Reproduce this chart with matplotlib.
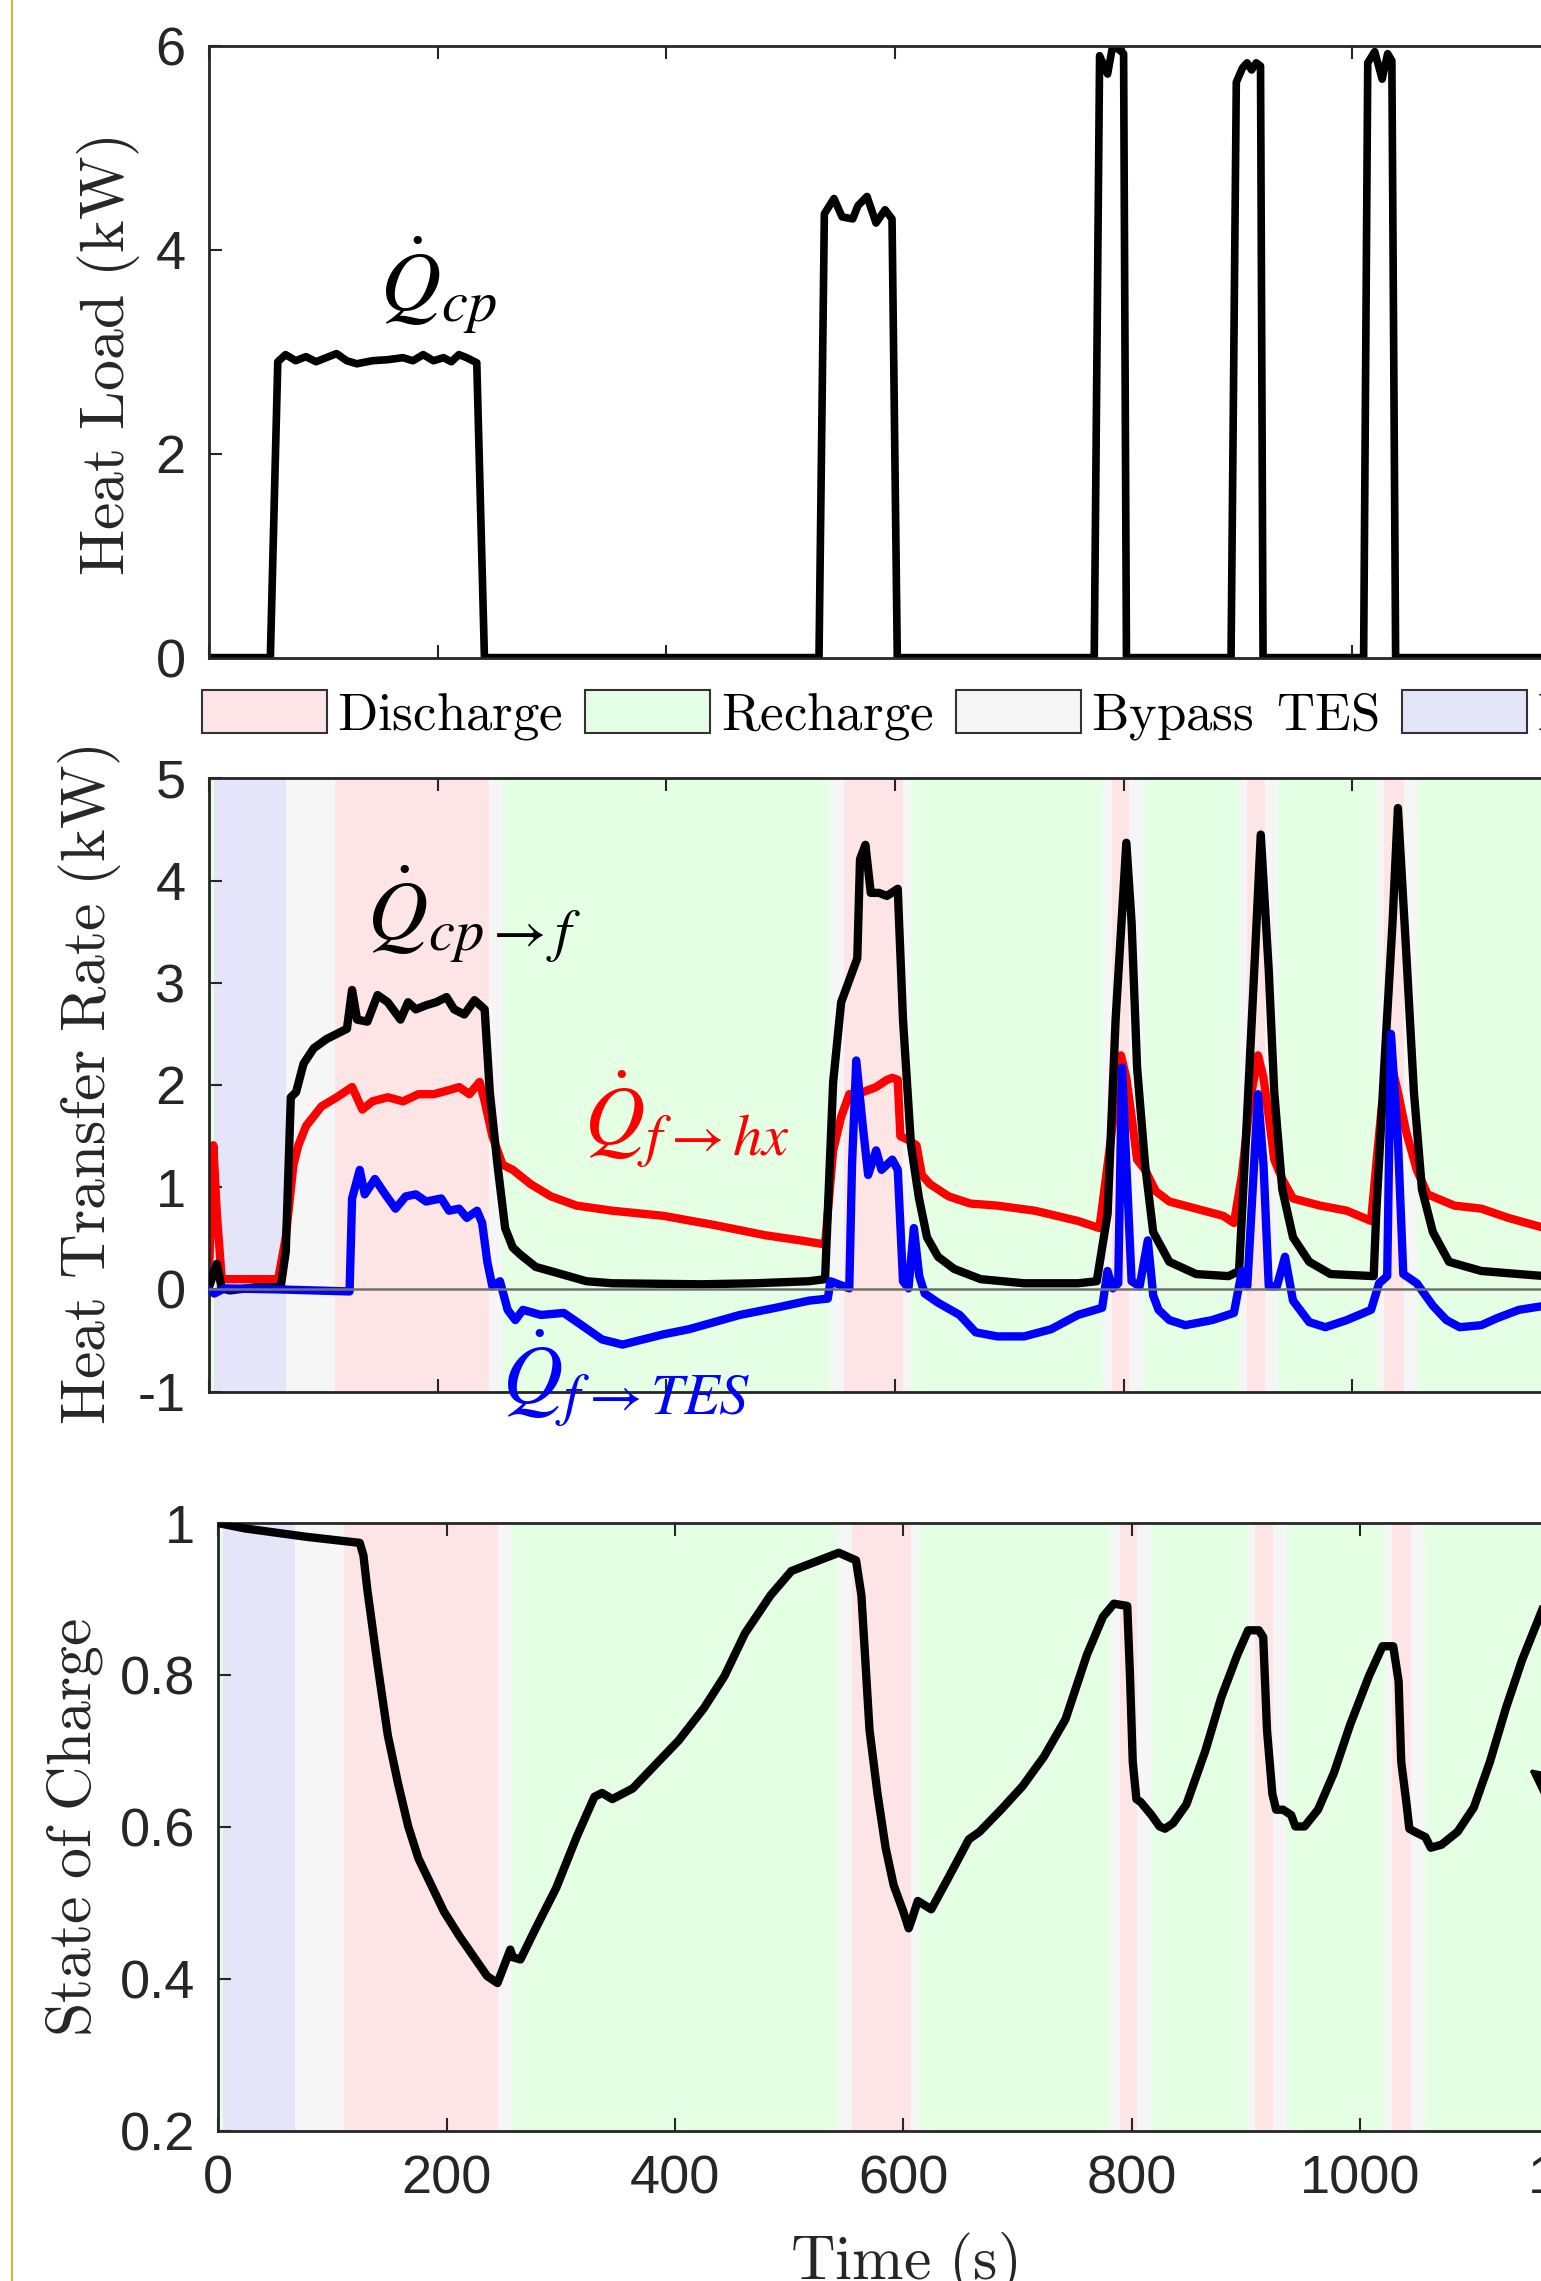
import numpy as np
import matplotlib.pyplot as plt
from matplotlib.patches import Patch
from matplotlib.lines import Line2D
from matplotlib.font_manager import FontProperties

plt.rcParams['mathtext.fontset'] = 'cm'
plt.rcParams['font.family'] = ['Liberation Sans', 'DejaVu Sans']
plt.rcParams['axes.unicode_minus'] = False

# ---- operating phases (s) ----
phase_t0 = [0, 4, 67, 110, 245, 256, 543, 555, 607, 614, 782, 790, 805, 817,
            902, 908, 924, 935, 1022, 1028, 1045, 1057]
phase_t1 = phase_t0[1:] + [1200]
phase_kind = ['R', 'I', 'B', 'D', 'B', 'R', 'B', 'D', 'B', 'R', 'B', 'D', 'B', 'R',
              'B', 'D', 'B', 'R', 'B', 'D', 'B', 'R']
phase_names = {'D': 'Discharge', 'R': 'Recharge', 'B': 'Bypass\\ \\,TES', 'I': 'Idle'}
phase_colors = {'D': '#FDE5E6', 'R': '#E5FFE5', 'B': '#F6F6F6', 'I': '#E5E5FA'}

# ---- heat load (kW) ----
t_load = [0, 53.5, 60, 66.8, 75.7, 84.6, 93.5, 102.4, 111.4, 120.3, 129.2, 142.6, 156,
          169.4, 178.3, 187.2, 196.2, 205, 211.8, 218.5, 225.2, 234.1, 240.8,
          533.5, 538.2, 546.6, 553.7, 563, 567.6, 575.5, 583.4, 591.3, 597.4, 602,
          774.3, 779, 786, 790, 795, 800, 802.5,
          894, 898.6, 904, 908, 912, 916, 919.8, 922,
          1010, 1013.6, 1019.7, 1026.2, 1031, 1034.7, 1038, 1200]
q_load = [0, 0, 2.90, 2.97, 2.91, 2.95, 2.90, 2.94, 2.98, 2.91, 2.88, 2.91, 2.92,
          2.94, 2.91, 2.97, 2.91, 2.94, 2.90, 2.97, 2.94, 2.89, 0,
          0, 4.35, 4.50, 4.32, 4.30, 4.43, 4.52, 4.26, 4.39, 4.30, 0,
          0, 5.90, 5.72, 5.97, 5.97, 5.92, 0,
          0, 5.64, 5.78, 5.83, 5.76, 5.83, 5.80, 0,
          0, 5.83, 5.94, 5.67, 5.92, 5.85, 0, 0]

# ---- heat transfer rates (kW) ----
t_cpf = [0, 6.7, 11, 18, 40, 62.5, 67, 71.4, 76, 82.6, 91.5, 102.7, 120.5, 125, 129.4,
         138.4, 147.3, 156.2, 167.4, 174, 180.8, 189.7, 198.6, 207.6, 214.3, 223.2,
         232.1, 241, 245.5, 252.2, 258.9, 265.6, 272.3, 285.7, 308, 330, 352.6, 430.6,
         477.6, 524.7, 538.8, 545.9, 552.9, 567, 569.4, 574.1, 578.8, 585.9, 592.9,
         602.4, 607, 614, 621, 628, 637.6, 651.8, 675, 713, 760, 776.5, 786, 793,
         802.4, 807, 811.8, 818.8, 825.9, 840, 863.5, 891.8, 901, 908, 915.3, 920,
         927, 931.8, 938.8, 948.2, 962.4, 981, 1018.8, 1021, 1028, 1035.3, 1040,
         1047, 1054, 1061, 1070.6, 1084.7, 1113, 1146, 1168.5, 1200]
q_cpf = [0.03, 0.25, 0.01, -0.01, 0.02, 0.02, 0.37, 1.88, 1.93, 2.21, 2.36, 2.45, 2.55,
         2.93, 2.64, 2.62, 2.88, 2.81, 2.64, 2.81, 2.74, 2.78, 2.81, 2.86, 2.74, 2.69,
         2.83, 2.74, 1.93, 1.22, 0.60, 0.41, 0.34, 0.22, 0.15, 0.08, 0.06, 0.05,
         0.06, 0.08, 0.10, 2.03, 2.81, 3.24, 4.21, 4.35, 3.88, 3.88, 3.85,
         3.92, 2.64, 1.41, 0.89, 0.51, 0.32, 0.20, 0.10, 0.06, 0.06, 0.08, 0.74, 2.64,
         4.37, 3.59, 2.17, 1.22, 0.56, 0.27, 0.15, 0.13, 0.18, 1.69, 3.35, 4.45,
         3.12, 1.93, 0.98, 0.51, 0.27, 0.15, 0.13, 0.74, 2.17, 3.59, 4.71,
         3.35, 1.93, 0.98, 0.56, 0.27, 0.18, 0.15, 0.13, 0.12]

t_fhx = [0, 3.6, 6.7, 11, 18, 60.3, 67, 73.7, 78, 84.8, 98.2, 111.6, 125, 134, 142.8,
         156.2, 169.6, 183, 196.4, 209.8, 218.7, 227.6, 236.6, 241, 247.7, 256.7,
         265.6, 281.2, 299, 321.4, 352.6, 397.3, 441.9, 486.5, 516.9, 538.8,
         545.9, 552.9, 560, 571.8, 583.5, 592.9, 597.6, 602.4, 604.7, 611.8, 618.8,
         623.5, 630.6, 647, 665.9, 689.4, 722.4, 760, 778.8, 786, 793, 797.6, 802.4,
         807, 811.8, 818.8, 828.2, 840, 863.5, 887, 896.5, 903.5, 910.6, 917.6, 922.4,
         927, 931.8, 938.8, 948.2, 971.8, 995.3, 1016.5, 1021, 1025.9, 1033, 1040,
         1047, 1056.5, 1065.9, 1089.4, 1113, 1136.5, 1168.5, 1200]
q_fhx = [0.22, 1.41, 0.74, 0.10, 0.10, 0.10, 0.51, 1.22, 1.41, 1.60, 1.79, 1.88, 1.98,
         1.76, 1.84, 1.88, 1.84, 1.91, 1.91, 1.95, 1.98, 1.91, 2.03, 1.84, 1.50, 1.22,
         1.17, 1.03, 0.91, 0.82, 0.77, 0.72, 0.63, 0.53, 0.48, 0.44,
         1.36, 1.69, 1.91, 1.93, 1.98, 2.05, 2.07, 2.05, 1.50, 1.46, 1.41,
         1.12, 1.03, 0.91, 0.84, 0.82, 0.77, 0.67, 0.60, 1.22, 1.84, 2.29, 2.07,
         1.69, 1.27, 1.17, 0.96, 0.86, 0.79, 0.72, 0.65, 1.12, 1.84, 2.29, 2.07,
         1.69, 1.27, 1.08, 0.89, 0.82, 0.77, 0.67, 1.22, 1.79, 2.26, 1.93,
         1.55, 1.17, 0.93, 0.82, 0.79, 0.70, 0.60, 0.55]

t_ftes = [0, 4.5, 13.4, 60, 122.8, 125, 131.7, 136.1, 145, 154, 163, 171.9, 180.8,
          189.7, 203, 209.8, 218.7, 225.4, 234.3, 238.8, 243.3, 247.7, 254.4, 261.1,
          267.8, 274.5, 290.1, 310.2, 325.8, 343.7, 361.6, 379.4, 397.3, 419.6, 441.9,
          464.2, 495.5, 524.7, 541.2, 543.5, 560, 562.4, 566.1, 571.8, 576.5, 583.5,
          588.2, 597.6, 602.4, 607, 611.8, 616.5, 621.2, 626, 637.6, 656.5, 670.6,
          689.4, 712.9, 736.5, 760, 781.2, 785.9, 790.6, 795.3, 798.6, 802.4, 807,
          814, 821.2, 825.9, 830.6, 840, 854, 877.6, 896.5, 903.5, 908.2, 917.6,
          922.4, 927, 934.1, 941.2, 948.2, 962.4, 976.5, 995.3, 1016.5, 1023.5,
          1030.6, 1033.9, 1040, 1044.7, 1056.5, 1070.6, 1082.4, 1094.1, 1113, 1127,
          1145.9, 1168.5, 1200]
q_ftes = [-0.01, -0.04, 0.01, 0.0, -0.02, 0.89, 1.17, 0.93, 1.08, 0.93, 0.79, 0.91,
          0.93, 0.86, 0.89, 0.77, 0.79, 0.70, 0.77, 0.65, 0.27, 0.03, 0.08, -0.20,
          -0.30, -0.20, -0.25, -0.23, -0.35, -0.49, -0.54, -0.49, -0.44, -0.39, -0.32,
          -0.25, -0.18, -0.11, -0.09, 0.08, 0.01, 1.22, 2.24, 1.60, 1.12, 1.36,
          1.17, 1.27, 1.17, 0.08, 0.01, 0.60, 0.13, -0.04, -0.13, -0.25, -0.42,
          -0.46, -0.46, -0.39, -0.25, -0.18, 0.18, 0.01, 0.06, 2.17, 1.22, 0.08,
          0.03, 0.48, -0.06, -0.20, -0.30, -0.35, -0.30, -0.23, 0.18, 0.03, 1.91,
          1.22, 0.03, 0.03, 0.32, -0.11, -0.32, -0.37, -0.30, -0.20, 0.06,
          0.13, 2.50, 1.46, 0.15, 0.06, -0.16, -0.30, -0.37, -0.35, -0.28,
          -0.20, -0.16, -0.12]

# ---- state of charge ----
t_soc = [0, 23.2, 76.9, 123.8, 127, 130.5, 139.5, 148.4, 157.3, 166.3, 175.2, 186.4,
         197.6, 211, 224.4, 235.5, 244.5, 255.7, 257.9, 264.6, 278, 295.9, 313.8,
         329.4, 336.1, 345.1, 363, 380.8, 403.2, 425.5, 443.4, 461.3, 483.7, 502,
         521, 543.5, 558.6, 563.3, 570.4, 577.4, 584.5, 591.5, 600, 604.7, 608,
         612.7, 624.5, 638.6, 657.4, 666.8, 685.6, 704.5, 723.3, 742.1, 760.9, 775,
         784.5, 796.2, 798.6, 801, 804.2, 808, 817.4, 824.5, 829.2, 836.2, 848,
         864.5, 878.6, 892.7, 902.1, 911.5, 915.3, 918.6, 923.3, 926.6, 932.7, 939.8,
         943.5, 951.5, 963.3, 977.4, 991.5, 1008, 1019.8, 1029.2, 1033.9, 1036.2,
         1040.9, 1043.3, 1048, 1057.4, 1062.1, 1071.5, 1085.6, 1099.8, 1113.9, 1128,
         1142.1, 1160, 1175]
soc = [1.0, 0.993, 0.982, 0.974, 0.958, 0.912, 0.813, 0.721, 0.658, 0.601, 0.559, 0.524,
       0.489, 0.457, 0.428, 0.404, 0.395, 0.439, 0.429, 0.426, 0.467, 0.520, 0.587,
       0.640, 0.645, 0.637, 0.651, 0.679, 0.714, 0.757, 0.799, 0.855, 0.905, 0.937,
       0.948, 0.961, 0.951, 0.905, 0.728, 0.644, 0.573, 0.524, 0.489, 0.467, 0.481,
       0.503, 0.492, 0.531, 0.584, 0.594, 0.623, 0.654, 0.693, 0.742, 0.827, 0.877,
       0.894, 0.891, 0.799, 0.686, 0.637, 0.633, 0.616, 0.601, 0.598, 0.605, 0.630,
       0.700, 0.771, 0.827, 0.859, 0.859, 0.850, 0.728, 0.644, 0.623, 0.623, 0.616,
       0.601, 0.601, 0.623, 0.672, 0.735, 0.799, 0.838, 0.838, 0.792, 0.686,
       0.630, 0.598, 0.594, 0.587, 0.573, 0.577, 0.594, 0.626, 0.686, 0.757,
       0.820, 0.887, 0.93]

W, H = 1541, 2281
fig = plt.figure(figsize=(W / 100, H / 100), dpi=100)

def px_axes(left, top, width, bottom):
    return fig.add_axes([left / W, 1 - bottom / H, width / W, (bottom - top) / H])

ax1 = px_axes(209.2, 45.5, 1371.6, 657.6)
ax2 = px_axes(209.2, 778.4, 1371.6, 1391.6)
ax3 = px_axes(218.4, 1523.1, 1369.8, 2131.3)

tick_fs = 39
label_font = FontProperties(size=44.5)
q_font = dict(fontsize=60, math_fontfamily='stix', ha='left', va='baseline')

for ax in (ax1, ax2, ax3):
    ax.set_xlim(0, 1200)
    ax.set_xticks([0, 200, 400, 600, 800, 1000, 1200])
    ax.tick_params(direction='in', length=9.5, width=1.5, top=True, right=True,
                   labelsize=tick_fs, colors='#262626', pad=17)
    for s in ax.spines.values():
        s.set_linewidth(2)
        s.set_color('#262626')

for ax in (ax2, ax3):
    for a, b, k in zip(phase_t0, phase_t1, phase_kind):
        ax.axvspan(a, b, facecolor=phase_colors[k], edgecolor='none', zorder=0)

# top: heat load
ax1.plot(t_load, q_load, color='k', lw=5.5, solid_joinstyle='round')
ax1.set_ylim(0, 6)
ax1.set_yticks([0, 2, 4, 6])
ax1.tick_params(labelbottom=False)
ax1.set_ylabel(r'$\mathrm{Heat\ Load\ (kW)}$', fontproperties=label_font, color='#262626')
ax1.yaxis.set_label_coords(-0.049, 0.493)
ax1.text(149, 3.4, r'$\dot{Q}_{cp}$', **q_font)

# middle: heat transfer rates
ax2.plot(t_fhx, q_fhx, color='#FF0000', lw=6, zorder=2)
ax2.plot(t_cpf, q_cpf, color='k', lw=6, zorder=3)
ax2.plot(t_ftes, q_ftes, color='#0000FF', lw=6, zorder=4)
ax2.axhline(0, color='#707070', lw=1.8, zorder=5)
ax2.set_ylim(-1, 5)
ax2.set_yticks([-1, 0, 1, 2, 3, 4, 5])
ax2.tick_params(labelbottom=False)
ax2.set_ylabel(r'$\mathrm{Heat\ Transfer\ Rate\ (kW)}$', fontproperties=label_font,
               color='#262626')
ax2.yaxis.set_label_coords(-0.0628, 0.5)
ax2.text(138, 3.42, r'$\dot{Q}_{cp\rightarrow f}$', color='k', **q_font)
ax2.text(328, 1.41, r'$\dot{Q}_{f\rightarrow hx}$', color='#FF0000', **q_font)
ax2.text(256.6, -1.12, r'$\dot{Q}_{f\rightarrow TES}$', color='#0000FF', **q_font)

# bottom: state of charge
ax3.plot(t_soc, soc, color='k', lw=6, zorder=3)
ax3.set_ylim(0.2, 1)
ax3.set_yticks([0.2, 0.4, 0.6, 0.8, 1])
ax3.set_yticklabels(['0.2', '0.4', '0.6', '0.8', '1'])
ax3.set_ylabel(r'$\mathrm{State\ of\ Charge}$', fontproperties=label_font, color='#262626')
ax3.yaxis.set_label_coords(-0.0828, 0.5)
ax3.set_xlabel(r'$\mathrm{Time\ (s)}$', fontproperties=label_font, color='#262626')
ax3.xaxis.set_label_coords(0.5, -0.162)
ax3.annotate('', xy=(1146, 0.679), xytext=(300, -234), textcoords='offset pixels',
             arrowprops=dict(arrowstyle='-|>', mutation_scale=90, color='k', lw=3))

# legend between the top panels
handles = [Patch(facecolor=phase_colors[k], edgecolor='#333333', lw=1.5)
           for k in ['D', 'R', 'B', 'I']]
labels = [r'$\mathrm{%s}$' % phase_names[k] for k in ['D', 'R', 'B', 'I']]
fig.legend(handles, labels, loc='upper left', bbox_to_anchor=(201.5 / W, 1 - 690 / H),
           ncol=4, frameon=False, borderpad=0, borderaxespad=0, handlelength=2.37,
           handleheight=0.875, handletextpad=0.195, columnspacing=0.43,
           prop=FontProperties(size=38))

# thin frame line at the left edge
fig.add_artist(Line2D([11.5 / W, 11.5 / W], [0, 1], color='#D8B43C', lw=1.5))

fig.savefig('out.png', dpi=100)
